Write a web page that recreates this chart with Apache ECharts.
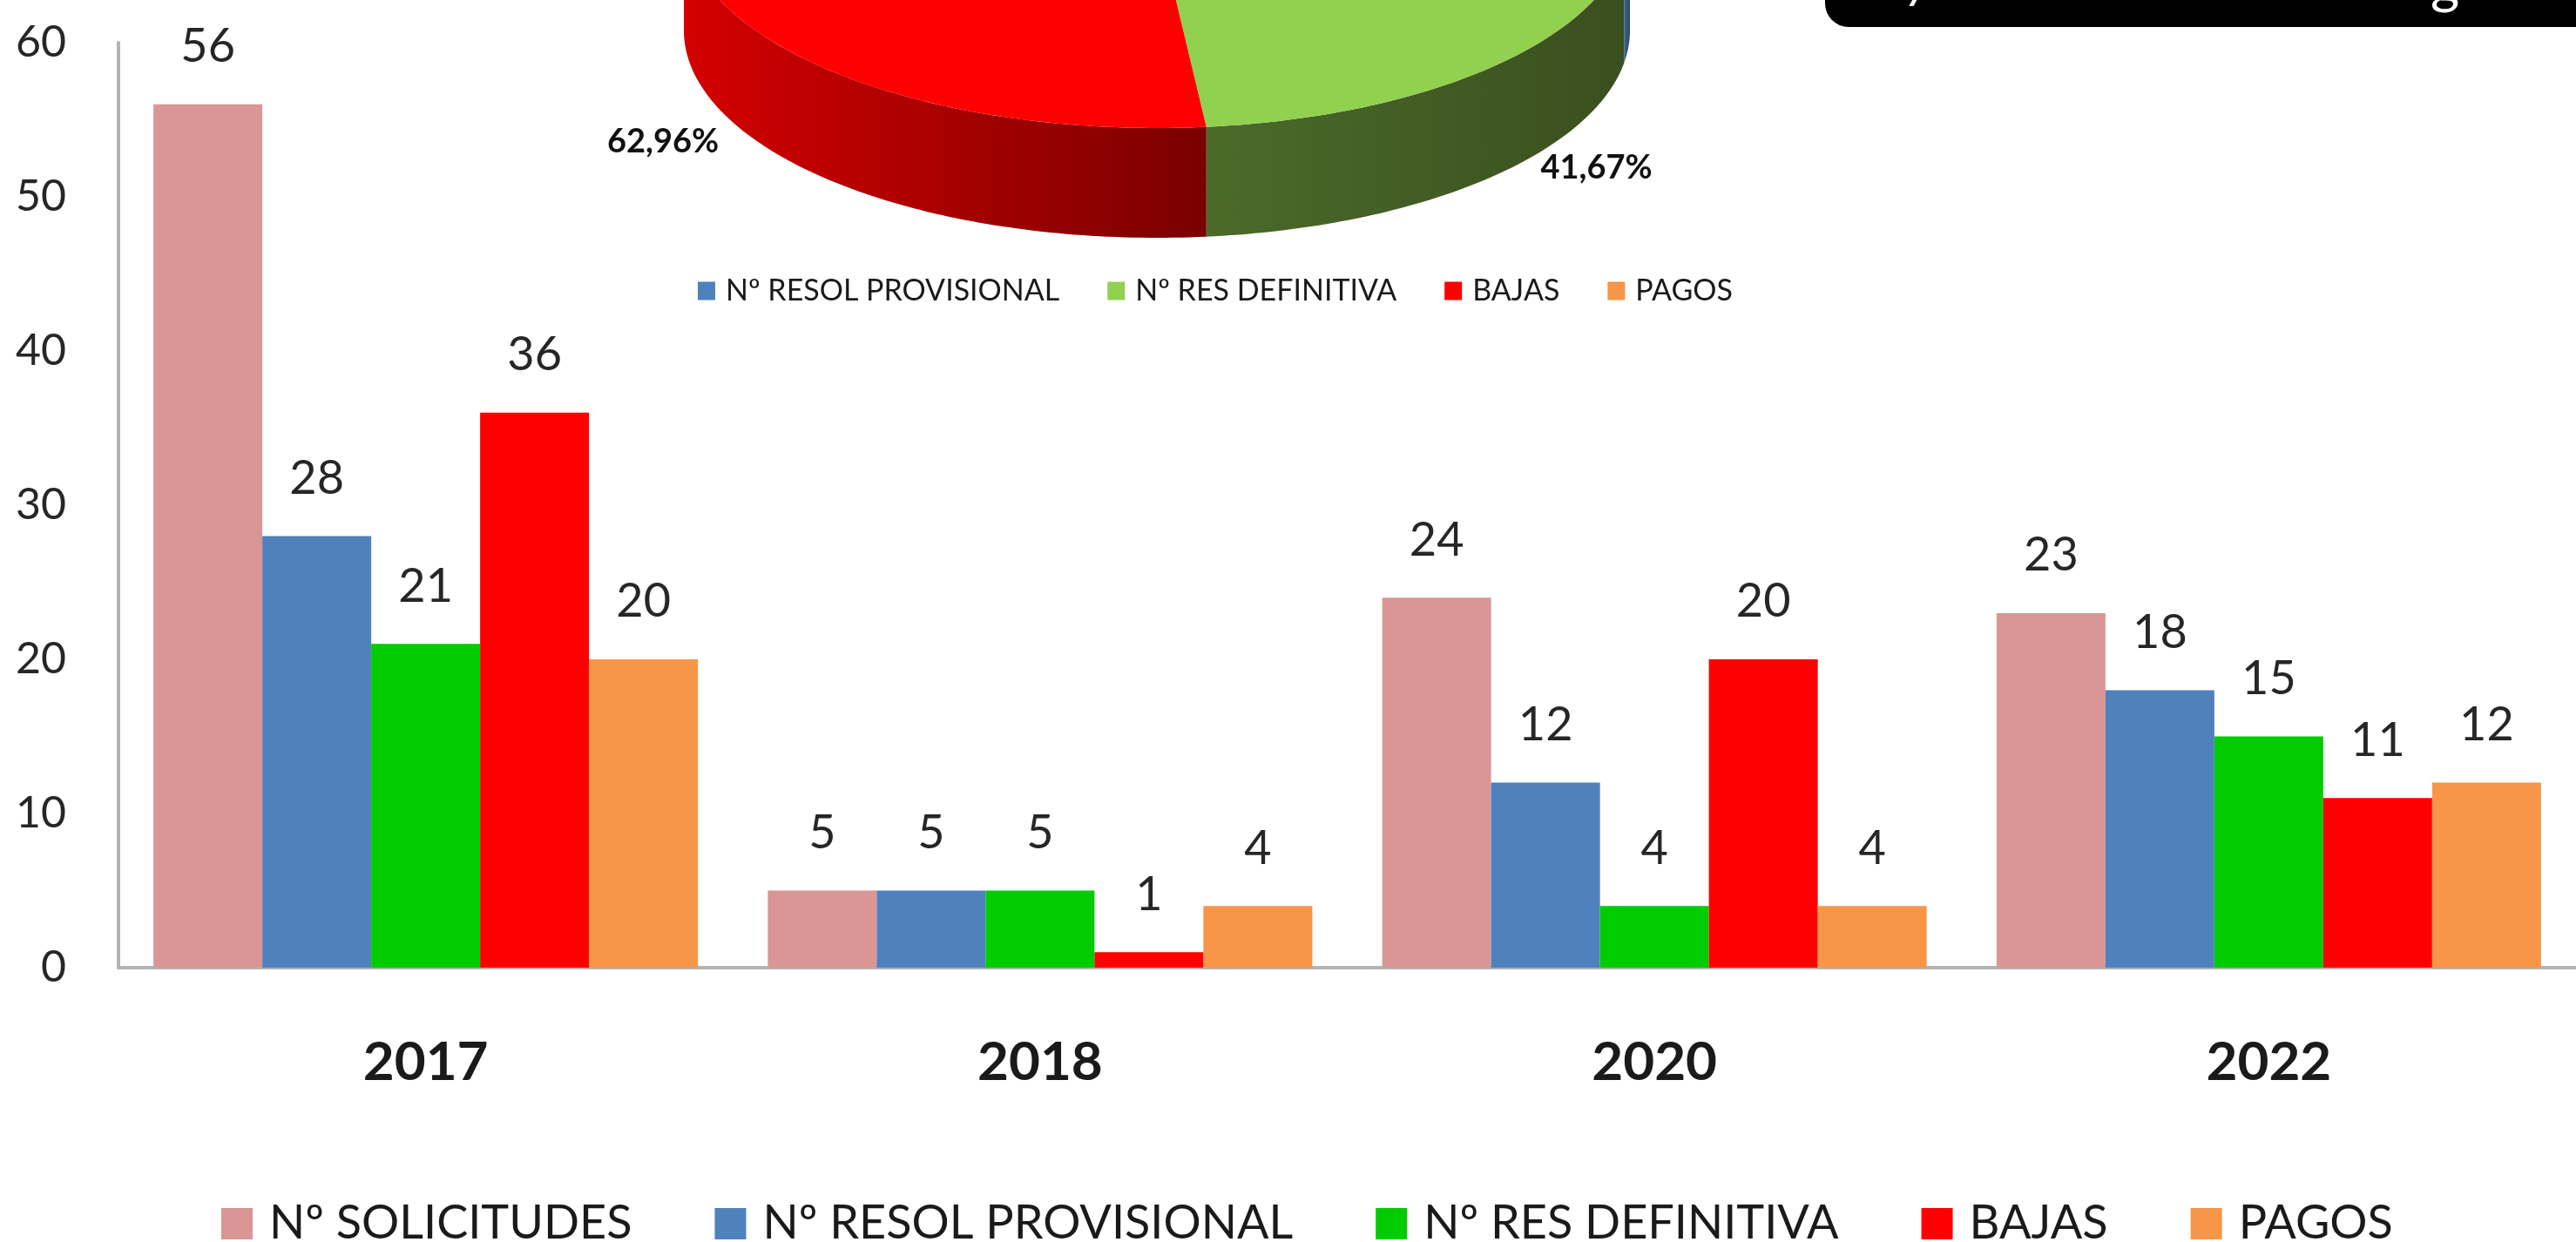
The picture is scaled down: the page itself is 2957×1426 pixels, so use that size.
<!DOCTYPE html>
<html>
<head>
<meta charset="utf-8">
<script src="https://cdn.jsdelivr.net/npm/echarts@6/dist/echarts.min.js"></script>
<style>
  html, body { margin: 0; padding: 0; background: #fff; }
  #chart { width: 2957px; height: 1426px; }
</style>
</head>
<body>
<div id="chart"></div>
<script>
// datos
const years = ['2017', '2018', '2020', '2022'];
const solicitudes = [56, 5, 24, 23];
const provisional = [28, 5, 12, 18];
const definitiva = [21, 5, 4, 15];
const bajas = [36, 1, 20, 11];
const pagos = [20, 4, 4, 12];
const yTicks = [0, 10, 20, 30, 40, 50, 60];

const barNames = ['Nº SOLICITUDES', 'Nº RESOL PROVISIONAL', 'Nº RES DEFINITIVA', 'BAJAS', 'PAGOS'];
const barColors = ['#d99694', '#4f81bd', '#00cc00', '#ff0000', '#f79646'];

// tarta: totales de cada serie respecto al total de solicitudes
const sum = arr => arr.reduce((a, b) => a + b, 0);
const pieNames = ['Nº RESOL PROVISIONAL', 'Nº RES DEFINITIVA', 'BAJAS', 'PAGOS'];
const pieValues = [sum(provisional), sum(definitiva), sum(bajas), sum(pagos)];
const pieBase = sum(solicitudes);
const pieColors = ['#4f81bd', '#92d050', '#ff0000', '#f79646'];
const pieWall = [
    ['#3d6492', '#2b4768'],
    ['#4b6b2a', '#3a4f1f'],
    ['#d40000', '#7a0000'],
    ['#c0702f', '#8a4f20']
];

// geometria de la tarta 3D
const pieCx = 1328, pieCy = -91, pieRx = 543, pieRy = 238, pieDepth = 126, pieStart = -6;

function piePt(deg, dy) {
    const r = deg * Math.PI / 180;
    return [pieCx + pieRx * Math.sin(r), pieCy - pieRy * Math.cos(r) + (dy || 0)];
}
function pieArc(a1, a2, dy) {
    const pts = [];
    const n = Math.max(2, Math.ceil(Math.abs(a2 - a1)));
    for (let i = 0; i <= n; i++) pts.push(piePt(a1 + (a2 - a1) * i / n, dy));
    return pts;
}

function renderPie(params, api) {
    const i = params.dataIndex;
    const total = sum(pieValues);
    let start = pieStart;
    for (let j = 0; j < i; j++) start += pieValues[j] / total * 360;
    const end = start + api.value(0) / total * 360;
    const children = [];

    // pared frontal
    const ws = Math.max(start, 90), we = Math.min(end, 270);
    if (we > ws) {
        children.push({
            type: 'polygon',
            z2: 1,
            shape: { points: pieArc(ws, we, 0).concat(pieArc(we, ws, pieDepth)) },
            style: {
                fill: {
                    type: 'linear', x: 0, y: 0, x2: 1, y2: 0,
                    colorStops: [
                        { offset: 0, color: pieWall[i][0] },
                        { offset: 1, color: pieWall[i][1] }
                    ]
                }
            }
        });
    }

    // cara superior
    children.push({
        type: 'polygon',
        z2: 5,
        shape: { points: [[pieCx, pieCy]].concat(pieArc(start, end, 0)) },
        style: { fill: pieColors[i] }
    });

    // etiqueta
    const mid = (start + end) / 2;
    const r = mid * Math.PI / 180;
    const lx = pieCx + 1.35 * pieRx * Math.sin(r);
    const ly = pieCy - 1.35 * pieRy * Math.cos(r) + pieDepth * 0.4;
    children.push({
        type: 'text',
        z2: 10,
        style: {
            text: (api.value(0) / pieBase * 100).toFixed(2).replace('.', ',') + '%',
            x: lx, y: ly,
            align: 'center', verticalAlign: 'middle',
            fontFamily: 'Lato', fontWeight: 'bold', fontSize: 38,
            fill: '#111'
        }
    });
    return { type: 'group', children: children };
}

const chart = echarts.init(document.getElementById('chart'));

const barData = [solicitudes, provisional, definitiva, bajas, pagos];
const barSeries = barNames.map((name, i) => ({
    name: name,
    type: 'bar',
    data: barData[i],
    barWidth: 125,
    barGap: '0%',
    itemStyle: { color: barColors[i] },
    label: {
        show: true,
        position: 'top',
        distance: 39,
        fontFamily: 'Lato',
        fontSize: 54,
        lineHeight: 54,
        color: '#262626'
    }
}));

const option = {
    animation: false,
    backgroundColor: '#fff',
    grid: { left: 136, right: 0, top: 49, bottom: 315 },
    legend: [
        {
            data: barNames,
            left: 249,
            top: 1373,
            itemWidth: 36,
            itemHeight: 36,
            itemGap: 95,
            icon: 'rect',
            textStyle: { fontFamily: 'Lato', fontSize: 54, color: '#1a1a1a', padding: [0, 0, 0, 14] }
        },
        {
            data: pieNames.map((n, i) => ({ name: n, itemStyle: { color: pieColors[i] } })),
            left: 796,
            top: 312,
            itemWidth: 20,
            itemHeight: 21,
            itemGap: 55,
            icon: 'rect',
            textStyle: { fontFamily: 'Lato', fontSize: 34, color: '#1a1a1a', padding: [0, 0, 0, 7] }
        }
    ],
    xAxis: {
        type: 'category',
        data: years,
        axisLine: { show: true, lineStyle: { color: '#b3b3b3', width: 4 } },
        axisTick: { show: false },
        axisLabel: {
            fontFamily: 'Lato', fontWeight: 'bold', fontSize: 62, lineHeight: 62,
            color: '#1a1a1a', margin: 78
        }
    },
    yAxis: {
        type: 'value',
        min: yTicks[0],
        max: yTicks[yTicks.length - 1],
        interval: 10,
        axisLine: { show: true, lineStyle: { color: '#b3b3b3', width: 4 } },
        axisTick: { show: false },
        splitLine: { show: false },
        axisLabel: { fontFamily: 'Lato', fontSize: 50, color: '#262626', margin: 60 }
    },
    series: barSeries.concat([{
        name: 'tarta',
        type: 'custom',
        coordinateSystem: 'none',
        renderItem: renderPie,
        data: pieValues.map((v, i) => ({ name: pieNames[i], value: v })),
        z: 1
    }]),
    graphic: [
        {
            type: 'rect',
            shape: { x: 2095, y: -40, width: 900, height: 71, r: 27 },
            style: { fill: '#000' }
        },
        {
            type: 'text',
            style: { text: 'y', x: 2188, y: 8, verticalAlign: 'bottom', fontFamily: 'Lato', fontStyle: 'italic', fontSize: 60, fill: '#fff' }
        },
        {
            type: 'text',
            style: { text: 'g', x: 2790, y: 14, verticalAlign: 'bottom', fontFamily: 'Lato', fontSize: 64, fill: '#fff' }
        }
    ]
};

chart.setOption(option);
</script>
</body>
</html>
